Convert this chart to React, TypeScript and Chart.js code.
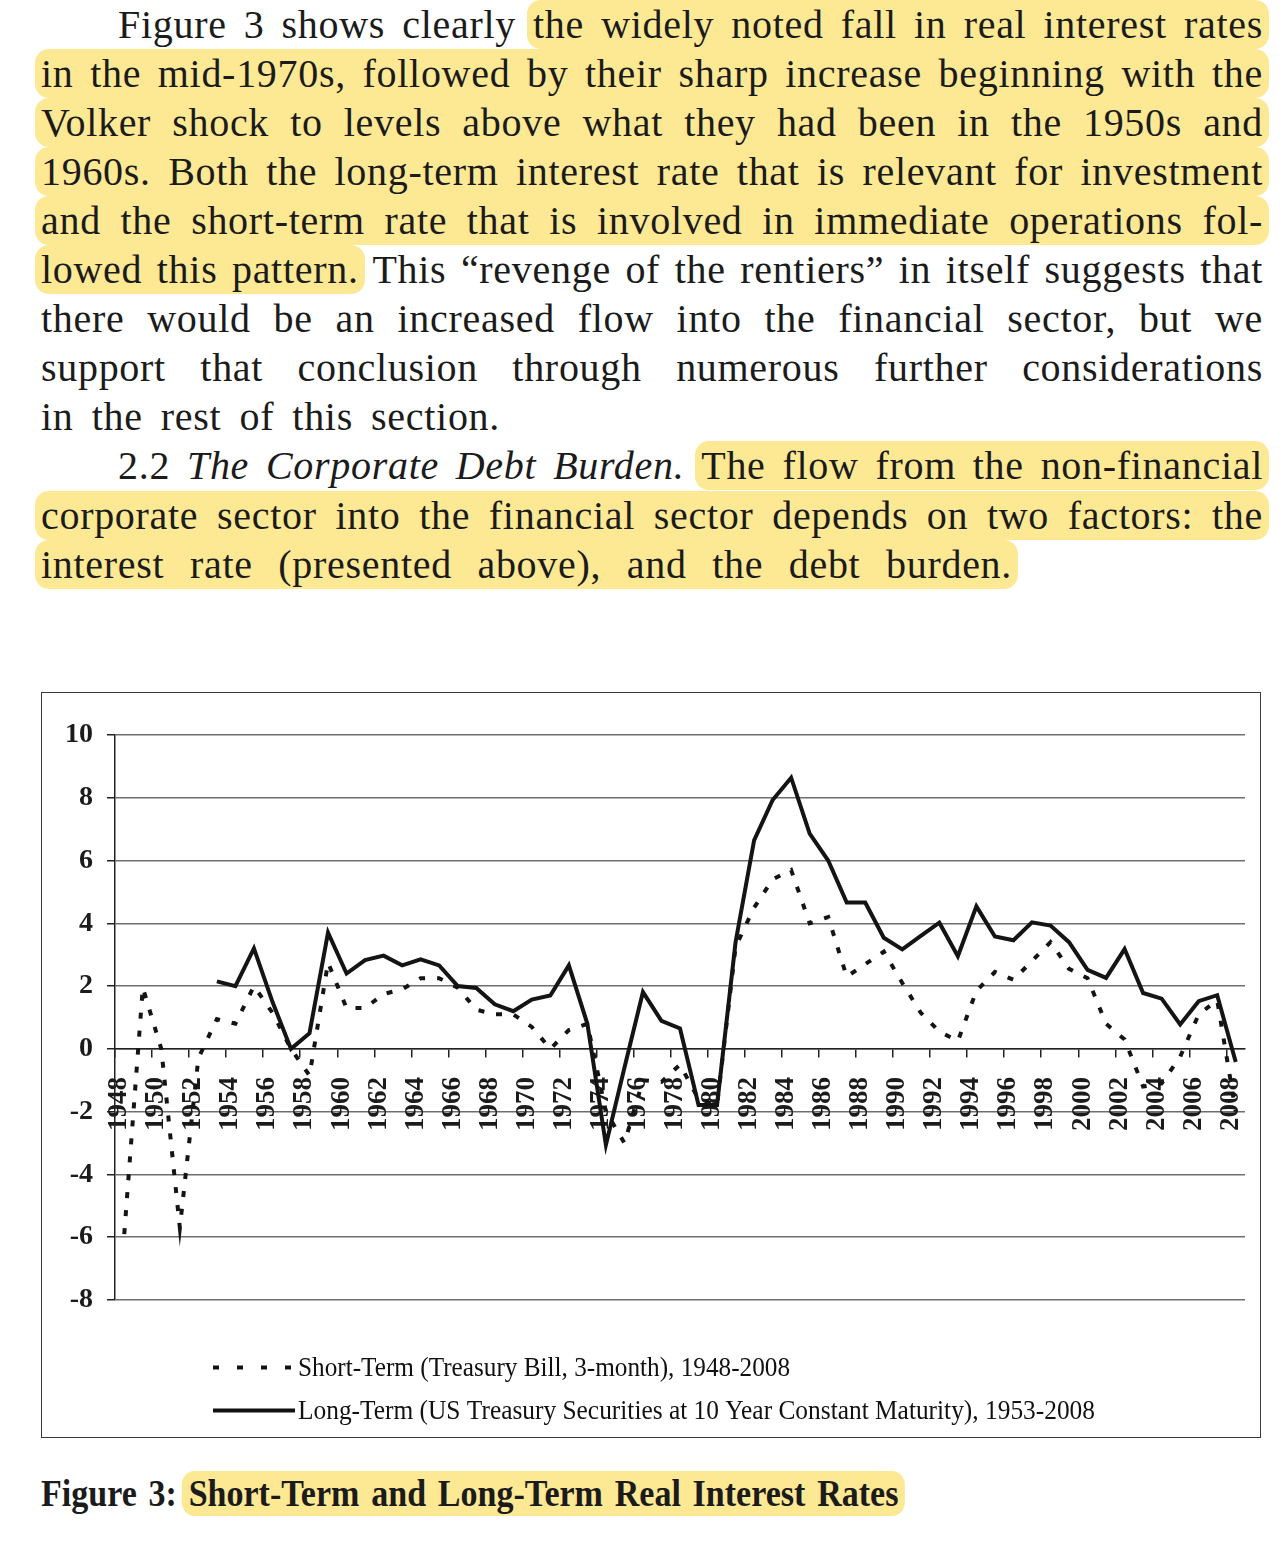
import React, { useEffect, useRef } from "react";
import { Chart, registerables } from "chart.js";

Chart.register(...registerables);

// ---------- chart data ----------
const years = [
  "1948", "1949", "1950", "1951", "1952", "1953", "1954", "1955", "1956", "1957",
  "1958", "1959", "1960", "1961", "1962", "1963", "1964", "1965", "1966", "1967",
  "1968", "1969", "1970", "1971", "1972", "1973", "1974", "1975", "1976", "1977",
  "1978", "1979", "1980", "1981", "1982", "1983", "1984", "1985", "1986", "1987",
  "1988", "1989", "1990", "1991", "1992", "1993", "1994", "1995", "1996", "1997",
  "1998", "1999", "2000", "2001", "2002", "2003", "2004", "2005", "2006", "2007",
  "2008",
];

const shortTerm = [
  -5.9, 1.95, 0.0, -5.7, -0.3, 0.95, 0.8, 2.0, 1.15, 0.0,
  -0.85, 2.75, 1.3, 1.3, 1.75, 1.9, 2.25, 2.25, 1.95, 1.25,
  1.1, 1.1, 0.7, 0.0, 0.6, 0.8, -2.0, -3.0, -1.0, -1.05,
  -0.5, -1.6, -1.8, 3.25, 4.5, 5.4, 5.7, 4.0, 4.2, 2.3,
  2.7, 3.1, 2.1, 1.15, 0.55, 0.25, 1.85, 2.45, 2.2, 2.8,
  3.4, 2.55, 2.25, 0.8, 0.3, -1.2, -1.1, -0.25, 1.1, 1.55,
  -2.0,
];

const longTerm = [
  null, null, null, null, null, 2.15, 2.0, 3.2, 1.5, 0.0,
  0.5, 3.7, 2.4, 2.83, 2.97, 2.66, 2.85, 2.66, 2.0, 1.94,
  1.42, 1.2, 1.57, 1.7, 2.66, 0.8, -3.06, -0.6, 1.81, 0.89,
  0.65, -1.79, -1.79, 3.4, 6.64, 7.93, 8.64, 6.86, 6.0, 4.66,
  4.66, 3.54, 3.17, 3.6, 4.02, 2.95, 4.54, 3.58, 3.46, 4.03,
  3.93, 3.4, 2.52, 2.26, 3.18, 1.78, 1.6, 0.78, 1.52, 1.71,
  -0.42,
];

const seriesLabels = [
  "Short-Term (Treasury Bill, 3-month), 1948-2008",
  "Long-Term (US Treasury Securities at 10 Year Constant Maturity), 1953-2008",
];

const yMin = -8;
const yMax = 10;
const yStep = 2;

// ---------- page text ----------
type Seg = { t: string; hl?: boolean; it?: boolean };
type Line = { left: number; right: number; segs: Seg[] };

const textLines: Line[] = [
  { left: 118, right: 1263, segs: [{ t: "Figure 3 shows clearly " }, { t: "the widely noted fall in real interest rates", hl: true }] },
  { left: 41, right: 1263, segs: [{ t: "in the mid-1970s, followed by their sharp increase beginning with the", hl: true }] },
  { left: 41, right: 1263, segs: [{ t: "Volker shock to levels above what they had been in the 1950s and", hl: true }] },
  { left: 41, right: 1263, segs: [{ t: "1960s. Both the long-term interest rate that is relevant for investment", hl: true }] },
  { left: 41, right: 1263, segs: [{ t: "and the short-term rate that is involved in immediate operations fol-", hl: true }] },
  { left: 41, right: 1263, segs: [{ t: "lowed this pattern.", hl: true }, { t: " This \u201crevenge of the rentiers\u201d in itself suggests that" }] },
  { left: 41, right: 1263, segs: [{ t: "there would be an increased flow into the financial sector, but we" }] },
  { left: 41, right: 1263, segs: [{ t: "support that conclusion through numerous further considerations" }] },
  { left: 41, right: 500, segs: [{ t: "in the rest of this section." }] },
  { left: 118, right: 1263, segs: [{ t: "2.2 " }, { t: "The Corporate Debt Burden.", it: true }, { t: " " }, { t: "The flow from the non-financial", hl: true }] },
  { left: 41, right: 1263, segs: [{ t: "corporate sector into the financial sector depends on two factors: the", hl: true }] },
  { left: 41, right: 1012, segs: [{ t: "interest rate (presented above), and the debt burden.", hl: true }] },
];

const HL = "#fde994";
const INK = "#1b1b1b";
const SERIF = '"Liberation Serif", "Times New Roman", serif';

const legendPlugin = {
  id: "pageLegend",
  afterDraw(chart: any) {
    const ctx = chart.ctx as CanvasRenderingContext2D;
    const rows = [
      { y: 674.5, x1: 171, x2: 250, dash: [6, 18], maxW: 492 },
      { y: 717.5, x1: 171, x2: 253, dash: [] as number[], maxW: 797 },
    ];
    ctx.save();
    rows.forEach((r, i) => {
      ctx.strokeStyle = "#111";
      ctx.lineWidth = 4;
      ctx.lineCap = "butt";
      ctx.setLineDash(r.dash);
      ctx.beginPath();
      ctx.moveTo(r.x1, r.y);
      ctx.lineTo(r.x2, r.y);
      ctx.stroke();
      ctx.setLineDash([]);
      ctx.fillStyle = "#111";
      ctx.font = `27px ${SERIF}`;
      ctx.textBaseline = "middle";
      ctx.textAlign = "left";
      ctx.fillText(chart.data.datasets[i].label, 256, r.y + 1, r.maxW);
    });
    ctx.restore();
  },
};

function RateChart() {
  const ref = useRef<HTMLCanvasElement | null>(null);
  useEffect(() => {
    if (!ref.current) return;
    const chart = new Chart(ref.current, {
      type: "line",
      data: {
        labels: years,
        datasets: [
          {
            label: seriesLabels[0],
            data: shortTerm,
            borderColor: "#141414",
            borderWidth: 4,
            borderDash: [6, 12],
            borderCapStyle: "butt",
            pointRadius: 0,
            tension: 0,
            fill: false,
          },
          {
            label: seriesLabels[1],
            data: longTerm,
            borderColor: "#141414",
            borderWidth: 4,
            pointRadius: 0,
            tension: 0,
            fill: false,
            spanGaps: false,
          },
        ],
      },
      options: {
        animation: false,
        responsive: false,
        events: [],
        layout: { padding: { left: 0, right: 15, top: 42, bottom: 137 } },
        plugins: { legend: { display: false }, tooltip: { enabled: false } },
        scales: {
          x: {
            type: "category",
            position: { y: 0 } as any,
            offset: true,
            grid: {
              offset: true,
              drawOnChartArea: false,
              drawTicks: true,
              tickLength: 8,
              lineWidth: 1.5,
              color: (c: any) => (typeof c.index === "number" && c.index % 2 === 0 ? "#222" : "rgba(0,0,0,0)"),
            },
            border: { display: true, color: "#222", width: 1.5 },
            ticks: {
              autoSkip: false,
              minRotation: 90,
              maxRotation: 90,
              padding: 20,
              labelOffset: -5,
              color: INK,
              font: { family: SERIF, size: 27, weight: "bold" },
              callback: function (this: any, val: any, idx: number) {
                return idx % 2 === 0 ? this.getLabelForValue(val) : "";
              },
            },
            afterFit: (s: any) => {
              s.height = 0;
              s.paddingLeft = 0;
              s.paddingRight = 0;
            },
          },
          y: {
            min: yMin,
            max: yMax,
            grid: { color: "#6e6e6e", lineWidth: 1.5, tickLength: 8, tickColor: "#222" },
            border: { display: true, color: "#222", width: 1.5 },
            ticks: {
              stepSize: yStep,
              padding: 14,
              color: INK,
              font: { family: SERIF, size: 28, weight: "bold" },
            },
            afterFit: (s: any) => {
              s.width = 73;
              s.paddingTop = 0;
              s.paddingBottom = 0;
            },
          },
        },
      },
      plugins: [legendPlugin],
    } as any);
    return () => chart.destroy();
  }, []);
  return <canvas ref={ref} width={1218} height={744} style={{ position: "absolute", left: 0, top: 0, width: 1218, height: 744 }} />;
}

function TextLine({ line, idx }: { line: Line; idx: number }) {
  const center = 24 + 49.1 * idx;
  return (
    <div
      style={{
        position: "absolute",
        left: line.left,
        top: center - 24.5,
        width: line.right - line.left,
        height: 49,
        lineHeight: "49px",
        fontSize: 40,
        letterSpacing: "0.7px",
        fontFamily: SERIF,
        color: INK,
        textAlign: "justify",
        textAlignLast: "justify" as any,
      }}
    >
      {line.segs.map((s, i) => (
        <span
          key={i}
          style={{
            fontStyle: s.it ? "italic" : "normal",
            background: s.hl ? HL : "transparent",
            borderRadius: s.hl ? 14 : 0,
            padding: s.hl ? "2px 6px" : 0,
            margin: s.hl ? "0 -6px" : 0,
          }}
        >
          {s.t}
        </span>
      ))}
    </div>
  );
}

export default function App() {
  return (
    <div style={{ position: "absolute", left: 0, top: 0, width: 1284, height: 1548, overflow: "hidden", background: "#fff" }}>
      {textLines.map((l, i) => (
        <TextLine key={i} line={l} idx={i} />
      ))}
      <div
        style={{
          position: "absolute",
          left: 41,
          top: 692,
          width: 1220,
          height: 746,
          border: "1.5px solid #3a3a3a",
          boxSizing: "border-box",
        }}
      >
        <RateChart />
      </div>
      <div
        style={{
          position: "absolute",
          left: 41,
          top: 1470,
          width: 932,
          height: 48,
          lineHeight: "48px",
          fontSize: 37,
          fontWeight: "bold",
          fontFamily: SERIF,
          color: INK,
          textAlign: "justify",
          textAlignLast: "justify" as any,
          transform: "scaleX(0.92)",
          transformOrigin: "0 0",
        }}
      >
        <span>Figure 3: </span>
        <span style={{ background: HL, borderRadius: 14, padding: "2px 7px", margin: "0 -7px" }}>
          Short-Term and Long-Term Real Interest Rates
        </span>
      </div>
    </div>
  );
}
